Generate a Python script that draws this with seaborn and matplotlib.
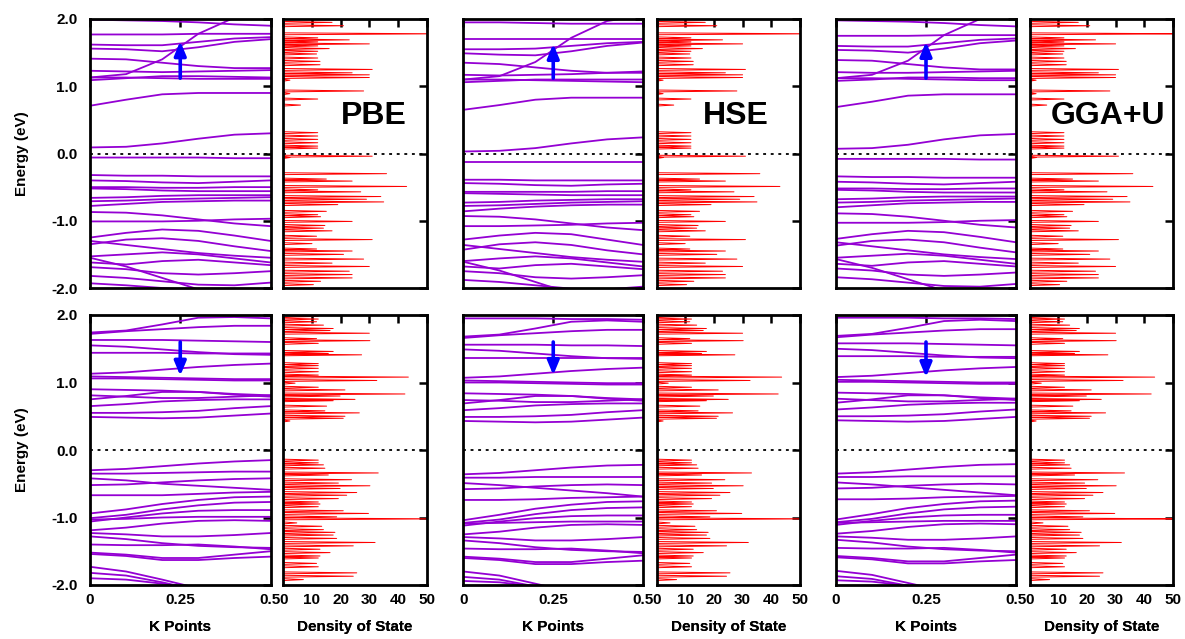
import matplotlib
matplotlib.use("Agg")
import numpy as np
import pandas as pd
import matplotlib.pyplot as plt
import seaborn as sns

# ---------------------------------------------------------------------------
# data
# ---------------------------------------------------------------------------
methods = ["PBE", "HSE", "GGA+U"]
kpts = [0.0, 0.1, 0.2, 0.3, 0.4, 0.5]

# spin-up bands (top row), one list per band, energies in eV at kpts
pbe_up = [
    [0.09, 0.10, 0.15, 0.22, 0.28, 0.30],
    [0.71, 0.80, 0.88, 0.90, 0.90, 0.90],
    [1.09, 1.12, 1.15, 1.15, 1.14, 1.13],
    [1.13, 1.13, 1.12, 1.11, 1.11, 1.11],
    [1.23, 1.22, 1.21, 1.22, 1.23, 1.24],
    [1.13, 1.18, 1.40, 1.78, 2.02, 2.10],
    [1.41, 1.40, 1.35, 1.30, 1.27, 1.27],
    [1.56, 1.55, 1.52, 1.58, 1.66, 1.70],
    [1.62, 1.61, 1.61, 1.66, 1.71, 1.73],
    [1.77, 1.77, 1.77, 1.78, 1.78, 1.78],
    [1.99, 1.98, 1.97, 1.95, 1.92, 1.90],
    [-0.06, -0.06, -0.06, -0.06, -0.07, -0.07],
    [-0.32, -0.33, -0.33, -0.34, -0.34, -0.34],
    [-0.40, -0.41, -0.43, -0.44, -0.42, -0.40],
    [-0.50, -0.50, -0.51, -0.51, -0.50, -0.50],
    [-0.52, -0.53, -0.55, -0.56, -0.56, -0.56],
    [-0.66, -0.65, -0.63, -0.62, -0.62, -0.62],
    [-0.71, -0.70, -0.68, -0.67, -0.66, -0.65],
    [-0.78, -0.75, -0.72, -0.71, -0.70, -0.70],
    [-0.87, -0.88, -0.92, -0.98, -1.04, -1.08],
    [-1.01, -1.01, -1.01, -1.00, -0.98, -0.97],
    [-1.25, -1.18, -1.13, -1.15, -1.22, -1.30],
    [-1.35, -1.28, -1.26, -1.30, -1.38, -1.45],
    [-1.30, -1.36, -1.42, -1.48, -1.52, -1.55],
    [-1.53, -1.50, -1.47, -1.50, -1.56, -1.62],
    [-1.62, -1.65, -1.60, -1.58, -1.62, -1.66],
    [-1.69, -1.72, -1.78, -1.80, -1.78, -1.75],
    [-1.82, -1.85, -1.90, -1.95, -1.96, -1.92],
    [-1.55, -1.68, -1.85, -2.02, -2.10, -2.10],
    [-1.93, -1.96, -2.00, -2.04, -2.05, -2.05],
]
hse_up = [
    [0.03, 0.04, 0.08, 0.15, 0.21, 0.24],
    [0.65, 0.72, 0.80, 0.83, 0.83, 0.83],
    [1.06, 1.08, 1.10, 1.10, 1.10, 1.10],
    [1.10, 1.10, 1.09, 1.08, 1.07, 1.06],
    [1.17, 1.16, 1.17, 1.18, 1.20, 1.22],
    [1.10, 1.15, 1.36, 1.72, 1.97, 2.05],
    [1.35, 1.33, 1.28, 1.23, 1.20, 1.20],
    [1.49, 1.47, 1.46, 1.52, 1.60, 1.65],
    [1.55, 1.55, 1.56, 1.60, 1.64, 1.66],
    [1.70, 1.70, 1.70, 1.70, 1.70, 1.70],
    [1.95, 1.95, 1.94, 1.93, 1.93, 1.93],
    [-0.13, -0.13, -0.13, -0.13, -0.13, -0.13],
    [-0.39, -0.39, -0.40, -0.40, -0.40, -0.40],
    [-0.44, -0.45, -0.47, -0.48, -0.46, -0.45],
    [-0.57, -0.57, -0.57, -0.57, -0.56, -0.56],
    [-0.59, -0.60, -0.61, -0.62, -0.62, -0.62],
    [-0.73, -0.72, -0.70, -0.69, -0.68, -0.68],
    [-0.78, -0.77, -0.75, -0.73, -0.72, -0.71],
    [-0.86, -0.82, -0.79, -0.77, -0.76, -0.76],
    [-0.93, -0.94, -0.98, -1.04, -1.10, -1.14],
    [-1.08, -1.08, -1.07, -1.06, -1.04, -1.03],
    [-1.28, -1.22, -1.18, -1.20, -1.28, -1.36],
    [-1.43, -1.35, -1.32, -1.36, -1.44, -1.50],
    [-1.36, -1.42, -1.48, -1.54, -1.58, -1.61],
    [-1.60, -1.56, -1.53, -1.56, -1.62, -1.68],
    [-1.68, -1.71, -1.66, -1.64, -1.68, -1.72],
    [-1.75, -1.78, -1.84, -1.86, -1.84, -1.81],
    [-1.88, -1.91, -1.96, -2.01, -2.02, -1.98],
    [-1.61, -1.74, -1.91, -2.08, -2.15, -2.15],
]
ggau_up = [
    [0.07, 0.08, 0.13, 0.21, 0.27, 0.29],
    [0.69, 0.77, 0.86, 0.88, 0.88, 0.88],
    [1.08, 1.10, 1.13, 1.13, 1.12, 1.12],
    [1.12, 1.12, 1.11, 1.10, 1.09, 1.09],
    [1.21, 1.20, 1.20, 1.21, 1.22, 1.23],
    [1.12, 1.17, 1.38, 1.76, 2.00, 2.08],
    [1.39, 1.38, 1.33, 1.28, 1.25, 1.25],
    [1.54, 1.53, 1.50, 1.56, 1.64, 1.68],
    [1.60, 1.59, 1.59, 1.64, 1.69, 1.71],
    [1.75, 1.75, 1.75, 1.76, 1.76, 1.76],
    [1.98, 1.97, 1.96, 1.94, 1.91, 1.89],
    [-0.08, -0.08, -0.08, -0.08, -0.09, -0.09],
    [-0.34, -0.35, -0.35, -0.36, -0.36, -0.36],
    [-0.42, -0.43, -0.45, -0.46, -0.44, -0.42],
    [-0.52, -0.52, -0.53, -0.53, -0.52, -0.52],
    [-0.54, -0.55, -0.57, -0.58, -0.58, -0.58],
    [-0.68, -0.67, -0.65, -0.64, -0.64, -0.64],
    [-0.73, -0.72, -0.70, -0.69, -0.68, -0.67],
    [-0.80, -0.77, -0.74, -0.73, -0.72, -0.72],
    [-0.89, -0.90, -0.94, -1.00, -1.06, -1.10],
    [-1.03, -1.03, -1.03, -1.02, -1.00, -0.99],
    [-1.27, -1.20, -1.15, -1.17, -1.24, -1.32],
    [-1.37, -1.30, -1.28, -1.32, -1.40, -1.47],
    [-1.32, -1.38, -1.44, -1.50, -1.54, -1.57],
    [-1.55, -1.52, -1.49, -1.52, -1.58, -1.64],
    [-1.64, -1.67, -1.62, -1.60, -1.64, -1.68],
    [-1.71, -1.74, -1.80, -1.82, -1.80, -1.77],
    [-1.84, -1.87, -1.92, -1.97, -1.98, -1.94],
    [-1.57, -1.70, -1.87, -2.04, -2.12, -2.12],
]

# spin-down bands (bottom row)
pbe_dn = [
    [1.74, 1.77, 1.86, 1.96, 1.97, 1.95],
    [1.72, 1.76, 1.79, 1.82, 1.84, 1.84],
    [1.63, 1.63, 1.63, 1.62, 1.61, 1.60],
    [1.55, 1.53, 1.49, 1.45, 1.42, 1.41],
    [1.44, 1.44, 1.44, 1.43, 1.43, 1.43],
    [1.13, 1.15, 1.19, 1.23, 1.26, 1.28],
    [1.09, 1.08, 1.07, 1.06, 1.05, 1.05],
    [1.06, 1.06, 1.05, 1.04, 1.03, 1.03],
    [0.90, 0.89, 0.88, 0.86, 0.83, 0.81],
    [0.75, 0.80, 0.86, 0.86, 0.82, 0.79],
    [0.81, 0.79, 0.77, 0.77, 0.79, 0.81],
    [0.65, 0.68, 0.72, 0.74, 0.75, 0.75],
    [0.55, 0.55, 0.56, 0.58, 0.62, 0.65],
    [0.49, 0.48, 0.47, 0.48, 0.51, 0.54],
    [-0.30, -0.28, -0.24, -0.20, -0.17, -0.15],
    [-0.35, -0.35, -0.34, -0.33, -0.32, -0.32],
    [-0.42, -0.45, -0.50, -0.53, -0.56, -0.59],
    [-0.52, -0.51, -0.48, -0.45, -0.43, -0.42],
    [-0.67, -0.67, -0.67, -0.65, -0.63, -0.62],
    [-0.94, -0.88, -0.80, -0.74, -0.70, -0.69],
    [-1.01, -0.96, -0.88, -0.82, -0.78, -0.77],
    [-1.06, -1.00, -0.94, -0.90, -0.89, -0.89],
    [-1.03, -1.02, -1.00, -0.99, -0.99, -0.99],
    [-1.19, -1.15, -1.09, -1.05, -1.04, -1.05],
    [-1.23, -1.25, -1.28, -1.28, -1.26, -1.23],
    [-1.28, -1.32, -1.38, -1.42, -1.44, -1.45],
    [-1.40, -1.41, -1.41, -1.40, -1.43, -1.47],
    [-1.52, -1.55, -1.60, -1.60, -1.55, -1.50],
    [-1.54, -1.57, -1.63, -1.63, -1.60, -1.58],
    [-1.73, -1.80, -1.92, -2.05, -2.15, -2.20],
    [-1.82, -1.86, -1.96, -2.08, -2.15, -2.20],
    [-1.90, -1.92, -1.98, -2.05, -2.10, -2.15],
]
hse_dn = [
    [1.95, 1.95, 1.95, 1.94, 1.94, 1.93],
    [1.68, 1.71, 1.80, 1.90, 1.92, 1.90],
    [1.66, 1.70, 1.73, 1.76, 1.78, 1.78],
    [1.56, 1.56, 1.56, 1.55, 1.55, 1.54],
    [1.49, 1.47, 1.43, 1.39, 1.36, 1.35],
    [1.37, 1.37, 1.37, 1.37, 1.37, 1.37],
    [1.07, 1.09, 1.13, 1.17, 1.20, 1.22],
    [1.03, 1.02, 1.01, 1.00, 0.99, 0.99],
    [1.00, 1.00, 0.99, 0.98, 0.97, 0.97],
    [0.84, 0.83, 0.82, 0.80, 0.77, 0.75],
    [0.69, 0.74, 0.80, 0.80, 0.76, 0.73],
    [0.74, 0.73, 0.71, 0.71, 0.73, 0.75],
    [0.59, 0.62, 0.66, 0.68, 0.69, 0.69],
    [0.49, 0.49, 0.50, 0.52, 0.56, 0.59],
    [0.43, 0.42, 0.41, 0.42, 0.45, 0.48],
    [-0.36, -0.34, -0.30, -0.26, -0.23, -0.22],
    [-0.41, -0.41, -0.40, -0.40, -0.40, -0.40],
    [-0.49, -0.52, -0.56, -0.60, -0.64, -0.69],
    [-0.58, -0.57, -0.54, -0.52, -0.51, -0.52],
    [-0.74, -0.74, -0.73, -0.71, -0.70, -0.69],
    [-1.04, -0.96, -0.87, -0.81, -0.77, -0.76],
    [-1.08, -1.03, -0.95, -0.89, -0.86, -0.85],
    [-1.12, -1.06, -1.01, -0.98, -0.97, -0.97],
    [-1.09, -1.08, -1.07, -1.06, -1.06, -1.06],
    [-1.25, -1.21, -1.15, -1.11, -1.10, -1.11],
    [-1.29, -1.31, -1.34, -1.34, -1.32, -1.29],
    [-1.34, -1.38, -1.44, -1.48, -1.50, -1.51],
    [-1.46, -1.47, -1.47, -1.46, -1.49, -1.53],
    [-1.58, -1.61, -1.66, -1.66, -1.61, -1.56],
    [-1.60, -1.63, -1.69, -1.69, -1.66, -1.64],
    [-1.80, -1.86, -1.98, -2.10, -2.20, -2.25],
    [-1.88, -1.92, -2.02, -2.12, -2.20, -2.25],
    [-1.94, -1.96, -2.02, -2.10, -2.16, -2.20],
]
ggau_dn = [
    [1.96, 1.96, 1.96, 1.95, 1.95, 1.94],
    [1.69, 1.72, 1.81, 1.91, 1.93, 1.91],
    [1.67, 1.71, 1.74, 1.77, 1.79, 1.79],
    [1.58, 1.58, 1.58, 1.57, 1.56, 1.55],
    [1.50, 1.48, 1.44, 1.40, 1.37, 1.36],
    [1.39, 1.39, 1.39, 1.38, 1.38, 1.38],
    [1.08, 1.10, 1.14, 1.18, 1.21, 1.23],
    [1.04, 1.03, 1.02, 1.01, 1.00, 1.00],
    [1.01, 1.01, 1.00, 0.99, 0.98, 0.98],
    [0.85, 0.84, 0.83, 0.81, 0.78, 0.76],
    [0.70, 0.75, 0.81, 0.81, 0.77, 0.74],
    [0.76, 0.74, 0.72, 0.72, 0.74, 0.76],
    [0.60, 0.63, 0.67, 0.69, 0.70, 0.70],
    [0.50, 0.50, 0.51, 0.53, 0.57, 0.60],
    [0.44, 0.43, 0.42, 0.43, 0.46, 0.49],
    [-0.35, -0.33, -0.29, -0.25, -0.22, -0.21],
    [-0.40, -0.40, -0.39, -0.39, -0.39, -0.39],
    [-0.48, -0.51, -0.55, -0.59, -0.63, -0.67],
    [-0.57, -0.56, -0.53, -0.51, -0.50, -0.51],
    [-0.73, -0.73, -0.72, -0.70, -0.69, -0.68],
    [-1.03, -0.95, -0.86, -0.80, -0.76, -0.75],
    [-1.07, -1.02, -0.94, -0.88, -0.85, -0.84],
    [-1.11, -1.05, -1.00, -0.97, -0.96, -0.96],
    [-1.08, -1.07, -1.06, -1.05, -1.05, -1.05],
    [-1.24, -1.20, -1.14, -1.10, -1.09, -1.10],
    [-1.28, -1.30, -1.33, -1.33, -1.31, -1.28],
    [-1.33, -1.37, -1.43, -1.47, -1.49, -1.50],
    [-1.45, -1.46, -1.46, -1.45, -1.48, -1.52],
    [-1.57, -1.60, -1.65, -1.65, -1.60, -1.55],
    [-1.59, -1.62, -1.68, -1.68, -1.65, -1.63],
    [-1.79, -1.85, -1.97, -2.09, -2.19, -2.24],
    [-1.87, -1.91, -2.01, -2.11, -2.19, -2.24],
    [-1.93, -1.95, -2.01, -2.09, -2.15, -2.19],
]

# density of states peaks (the three methods give the same picture)
dos_up_energy = [
    1.95, 1.90, 1.78, 1.72, 1.69, 1.66, 1.63, 1.60, 1.56, 1.52, 1.48, 1.42,
    1.37, 1.32, 1.25, 1.20, 1.17, 1.13, 1.09, 0.93, 0.89, 0.81, 0.72, 0.31,
    0.26, 0.21, 0.16, 0.11, 0.08, -0.04, -0.06, -0.30, -0.38, -0.41, -0.49,
    -0.54, -0.57, -0.64, -0.68, -0.72, -0.76, -0.86, -0.91, -0.94, -1.01,
    -1.07, -1.11, -1.15, -1.23, -1.28, -1.34, -1.42, -1.45, -1.50, -1.57,
    -1.63, -1.68, -1.75, -1.80, -1.85, -1.90, -1.95,
]
dos_up_height = [
    17, 21, 55, 12, 23, 12, 30, 12, 16, 12, 11.6, 12,
    12.8, 12.8, 31, 24, 30, 30, 2.3, 28, 2.3, 12, 6, 12,
    12, 12, 12, 12, 12, 31, 2.3, 36, 15, 24, 43,
    12, 27, 34, 29, 35, 19, 15, 12, 13, 24,
    14.5, 14, 17, 11.6, 31, 10, 11.6, 24, 21, 28,
    17, 30, 23, 24, 24, 13, 10.5,
]
dos_dn_energy = [
    1.98, 1.94, 1.90, 1.85, 1.80, 1.77, 1.73, 1.65, 1.62, 1.58, 1.46, 1.43,
    1.41, 1.28, 1.25, 1.21, 1.16, 1.11, 1.08, 1.03, 0.99, 0.93, 0.89, 0.83,
    0.80, 0.75, 0.73, 0.65, 0.58, 0.55, 0.50, 0.47, 0.43, -0.15, -0.19,
    -0.22, -0.27, -0.34, -0.37, -0.44, -0.49, -0.53, -0.57, -0.63, -0.67,
    -0.72, -0.77, -0.80, -0.84, -0.90, -0.94, -0.99, -1.02, -1.08, -1.13,
    -1.18, -1.22, -1.26, -1.31, -1.37, -1.42, -1.47, -1.52, -1.57, -1.60,
    -1.68, -1.73, -1.82, -1.87, -1.92,
]
dos_dn_height = [
    12.2, 12.2, 11.6, 14, 17.4, 16.3, 30, 11.6, 30.2, 12.2, 17.4, 15.7,
    27.3, 12.2, 12.2, 12.2, 12.2, 12.2, 43.6, 32.6, 4.1, 12.2, 21.5, 42.4,
    19.8, 25, 17.4, 15.1, 14.5, 26.5, 21.5, 20.9, 2.3, 12.2, 12.2,
    14, 14.5, 33.1, 15.7, 23.8, 19.2, 30.2, 19.8, 25.6, 22.1,
    19.2, 12.2, 12.8, 12.2, 20.9, 29.7, 18.6, 55, 4.7, 13.4,
    14, 18, 17.4, 18.6, 32, 24.4, 12.8, 16.3, 12.8, 12.2,
    11.6, 12.2, 25.6, 24.4, 7,
]

# blue transition arrows at k = 0.25 (tail, head) in eV
arrow_up_tail = [1.12, 1.12, 1.12]
arrow_up_head = [1.67, 1.63, 1.66]
arrow_dn_tail = [1.60, 1.60, 1.60]
arrow_dn_head = [1.10, 1.11, 1.08]

band_sets = [[pbe_up, hse_up, ggau_up], [pbe_dn, hse_dn, ggau_dn]]
dos_sets = [(dos_up_energy, dos_up_height), (dos_dn_energy, dos_dn_height)]
arrows = [(arrow_up_tail, arrow_up_head), (arrow_dn_tail, arrow_dn_head)]

BAND_COLOR = "#9400D3"
DOS_COLOR = "#FF0000"

sns.set_style("white")
plt.rcParams["font.family"] = ["Liberation Sans", "DejaVu Sans"]
plt.rcParams["font.weight"] = "bold"
plt.rcParams["axes.linewidth"] = 2.0
for key in ("text.color", "axes.labelcolor", "xtick.color", "ytick.color",
            "axes.edgecolor"):
    plt.rcParams[key] = "black"


def band_frame(bands):
    rows = []
    for i, band in enumerate(bands):
        for k, e in zip(kpts, band):
            rows.append({"band": i, "k": k, "energy": e})
    return pd.DataFrame(rows)


def dos_frame(energy, height, half=0.014):
    e = np.asarray(energy, dtype=float)
    h = np.asarray(height, dtype=float)
    order = np.argsort(e)
    xs, ys = [], []
    for ei, hi in zip(e[order], h[order]):
        xs += [0.0, hi, 0.0]
        ys += [ei - half, ei, ei + half]
    return pd.DataFrame({"dos": xs, "energy": ys})


def style_axis(ax):
    ax.set_ylim(-2, 2)
    ax.tick_params(direction="in", top=True, right=True, length=6, width=1.8,
                   labelsize=11, pad=6, colors="black")
    for sp in ax.spines.values():
        sp.set_linewidth(2.0)
        sp.set_color("black")
    ax.axhline(0, color="black", ls=(0, (1.6, 2.6)), lw=1.3, zorder=1)
    ax.set_xlabel("")
    ax.set_ylabel("")


fig = plt.figure(figsize=(11.85, 6.39), dpi=100)
W, H = 1185.0, 639.0
band_x = [(90, 270.5), (463.5, 643), (836, 1016)]
dos_x = [(283.3, 426.7), (656.5, 800), (1029.5, 1173)]
row_y = [(19, 288), (315, 585)]
label_x = [0.63, 0.55, 0.55]

for r in range(2):
    y0, y1 = row_y[r]
    for c in range(3):
        # band structure panel
        bx0, bx1 = band_x[c]
        ax = fig.add_axes([bx0 / W, 1 - y1 / H, (bx1 - bx0) / W, (y1 - y0) / H])
        sns.lineplot(data=band_frame(band_sets[r][c]), x="k", y="energy",
                     units="band", estimator=None, sort=False, color=BAND_COLOR,
                     lw=1.3, ax=ax, legend=False)
        ax.set_xlim(0, 0.5)
        style_axis(ax)
        ax.set_xticks([0, 0.25, 0.5])
        ax.set_yticks([-2, -1, 0, 1, 2])
        if r == 1:
            ax.set_xticklabels(["0", "0.25", "0.5"])
        else:
            ax.set_xticklabels([])
        if c == 0:
            ax.set_yticklabels(["-2.0", "-1.0", "0.0", "1.0", "2.0"])
            ax.tick_params(axis="y", pad=9)
        else:
            ax.set_yticklabels([])
        tail, head = arrows[r][0][c], arrows[r][1][c]
        ax.annotate("", xy=(0.25, head), xytext=(0.25, tail),
                    arrowprops=dict(arrowstyle="-|>,head_length=0.6,head_width=0.25",
                                    color="#0000FF", lw=2.6, shrinkA=0, shrinkB=0,
                                    mutation_scale=14),
                    zorder=5)

        # density of states panel
        dx0, dx1 = dos_x[c]
        ax2 = fig.add_axes([dx0 / W, 1 - y1 / H, (dx1 - dx0) / W, (y1 - y0) / H])
        energy, height = dos_sets[r]
        sns.lineplot(data=dos_frame(energy, height), x="dos", y="energy",
                     sort=False, estimator=None, orient="y", color=DOS_COLOR,
                     lw=0.7, ax=ax2, legend=False)
        ax2.set_xlim(0, 50)
        style_axis(ax2)
        ax2.set_xticks([0, 10, 20, 30, 40, 50])
        ax2.set_yticks([-2, -1, 0, 1, 2])
        ax2.set_yticklabels([])
        if r == 1:
            ax2.set_xticklabels(["0", "10", "20", "30", "40", "50"])
        else:
            ax2.set_xticklabels([])
            ax2.text(label_x[c], 0.64, methods[c], transform=ax2.transAxes,
                     ha="center", va="center", fontsize=23, fontweight="bold",
                     color="black")

        fig.text((bx0 + bx1) / 2 / W, 1 - 627 / H, "K Points", ha="center",
                 va="center", fontsize=11, fontweight="bold")
        fig.text((dx0 + dx1) / 2 / W, 1 - 627 / H, "Density of State", ha="center",
                 va="center", fontsize=11, fontweight="bold")

    fig.text(22 / W, 1 - (y0 + y1) / 2 / H, "Energy (eV)", rotation=90,
             ha="center", va="center", fontsize=11, fontweight="bold")

fig.savefig("out.png", dpi=100)
